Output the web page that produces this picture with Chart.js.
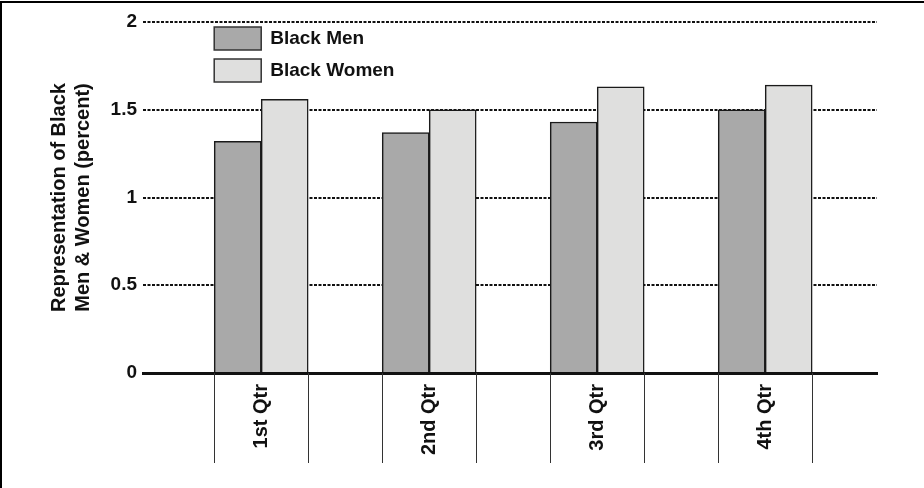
<!DOCTYPE html>
<html><head><meta charset="utf-8">
<script src="https://cdn.jsdelivr.net/npm/chart.js@4/dist/chart.umd.min.js"></script>
<style>
html,body{margin:0;padding:0;background:#fff;}
#wrap{position:relative;width:924px;height:488px;overflow:hidden;background:#fff;}
#c{position:absolute;left:0;top:0;}
.frame-top{position:absolute;left:0;top:1px;width:924px;height:2px;background:#000;}
.frame-left{position:absolute;left:0;top:1px;width:2px;height:487px;background:#000;}
</style></head><body>
<div id="wrap"><canvas id="c" width="924" height="488"></canvas><div class="frame-top"></div><div class="frame-left"></div></div>
<script>
const categories = ['1st Qtr', '2nd Qtr', '3rd Qtr', '4th Qtr'];
const seriesNames = ['Black Men', 'Black Women'];
const blackMen = [1.32, 1.37, 1.43, 1.50];
const blackWomen = [1.56, 1.50, 1.63, 1.64];
const yTicks = [0, 0.5, 1, 1.5, 2];
const yTitle = ['Representation of Black', 'Men & Women (percent)'];

const FONT = '"Liberation Sans", Arial, Helvetica, sans-serif';
Chart.defaults.font.family = FONT;
Chart.defaults.color = '#111';

const separatorPlugin = {
  id: 'separators',
  afterDraw(chart) {
    const ctx = chart.ctx;
    const m0 = chart.getDatasetMeta(0).data;
    const m1 = chart.getDatasetMeta(1).data;
    const yTop = chart.chartArea.bottom;
    ctx.save();
    ctx.strokeStyle = '#333';
    ctx.lineWidth = 1;
    categories.forEach((c, i) => {
      const l = m0[i].x - m0[i].width / 2;
      const r = m1[i].x + m1[i].width / 2;
      [l, r].forEach(x => {
        ctx.beginPath();
        ctx.moveTo(Math.round(x) + 0.5, yTop);
        ctx.lineTo(Math.round(x) + 0.5, yTop + 90);
        ctx.stroke();
      });
    });
    ctx.restore();
  }
};

const legendPlugin = {
  id: 'insideLegend',
  afterDraw(chart) {
    const ctx = chart.ctx;
    const bar = chart.getDatasetMeta(0).data[0];
    const x0 = bar.x - bar.width / 2;
    const top = chart.chartArea.top;
    ctx.save();
    chart.data.datasets.forEach((ds, i) => {
      const y = top + 5 + i * 32;
      ctx.fillStyle = ds.backgroundColor;
      ctx.fillRect(x0, y, 47, 23);
      ctx.strokeStyle = '#333';
      ctx.lineWidth = 1.5;
      ctx.strokeRect(x0, y, 47, 23);
      ctx.fillStyle = '#111';
      ctx.font = 'bold 19px ' + FONT;
      ctx.textBaseline = 'middle';
      ctx.textAlign = 'left';
      ctx.fillText(ds.label, x0 + 47 + 9, y + 12);
    });
    ctx.restore();
  }
};

new Chart(document.getElementById('c'), {
  type: 'bar',
  data: {
    datasets: [
      {
        label: seriesNames[0],
        data: blackMen.map((v, i) => ({ x: i + 1, y: v })),
        backgroundColor: '#A9A9A9',
        borderColor: '#1a1a1a',
        borderWidth: 1.5,
        barThickness: 47
      },
      {
        label: seriesNames[1],
        data: blackWomen.map((v, i) => ({ x: i + 1, y: v })),
        backgroundColor: '#DFDFDE',
        borderColor: '#1a1a1a',
        borderWidth: 1.5,
        barThickness: 47
      }
    ]
  },
  options: {
    responsive: false,
    animation: false,
    devicePixelRatio: 1,
    layout: { padding: { top: 22, right: 47, bottom: 0, left: 0 } },
    plugins: { legend: { display: false }, tooltip: { enabled: false } },
    scales: {
      x: {
        type: 'linear',
        offset: false,
        min: 0.2964,
        max: 4.6655,
        grid: { display: false, drawTicks: false, offset: false },
        border: { display: true, color: '#111', width: 3, z: 1 },
        afterBuildTicks: s => { s.ticks = categories.map((c, i) => ({ value: i + 1 })); },
        afterFit: s => { s.height = 115; },
        ticks: {
          autoSkip: false,
          minRotation: 90,
          maxRotation: 90,
          padding: 11,
          color: '#111',
          font: { size: 20, weight: 'bold' },
          callback: v => categories[Math.round(v) - 1] || ''
        }
      },
      y: {
        min: 0,
        max: 2,
        afterBuildTicks: s => { s.ticks = yTicks.map(v => ({ value: v })); },
        afterFit: s => { s.width = 143; },
        grid: { color: '#111', lineWidth: 2, drawTicks: false },
        border: { display: false, dash: [3, 1.5] },
        ticks: { padding: 6, color: '#111', font: { size: 19, weight: 'bold' }, callback: v => String(v) },
        title: {
          display: true,
          text: yTitle,
          color: '#111',
          font: { size: 20, weight: 'bold', lineHeight: 1.2 },
          padding: { top: 47, bottom: 0 }
        }
      }
    }
  },
  plugins: [separatorPlugin, legendPlugin]
});
</script>
</body></html>
